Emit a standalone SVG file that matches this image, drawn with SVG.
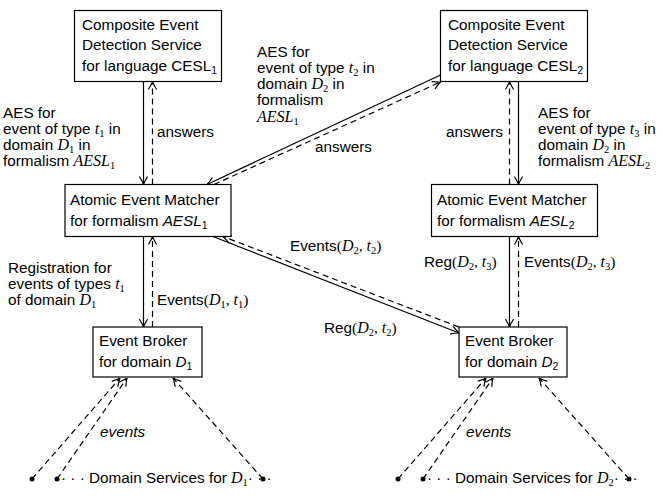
<svg xmlns="http://www.w3.org/2000/svg" width="663" height="499" viewBox="0 0 663 499">
<style>
text { font-family: "Liberation Sans", Arial, sans-serif; font-size: 15.3px; fill: #000; }
.m { font-family: "Liberation Serif", "Times New Roman", serif; font-style: italic; font-size: 16px; }
.mu { font-family: "Liberation Serif", "Times New Roman", serif; font-style: normal; font-size: 15.5px; }
.si { font-style: italic; }
.sub { font-size: 10.5px; }
.box { fill: #fff; stroke: #000; stroke-width: 1.2; }
.ln { stroke: #000; stroke-width: 1.2; fill: none; }
.dash { stroke-dasharray: 6 4; }
.ar { marker-end: url(#arr); }
</style>
<defs>
<marker id="arr" viewBox="0 0 10 10" refX="10" refY="5" markerWidth="10" markerHeight="10" markerUnits="userSpaceOnUse" orient="auto">
<path d="M2.5,1.2 Q7.5,4.2 10,5 Q7.5,5.8 2.5,8.8" fill="none" stroke="#000" stroke-width="1.2" stroke-dasharray="none" stroke-linecap="round"/>
</marker>
</defs>
<rect width="663" height="499" fill="#fff"/>

<g id="connectors">
<line class="ln ar" x1="143.5" y1="81.5" x2="143.5" y2="184.5"/>
<line class="ln dash ar" x1="152.5" y1="184.5" x2="152.5" y2="81.5"/>
<line class="ln ar" x1="143.5" y1="236.5" x2="143.5" y2="327"/>
<line class="ln dash ar" x1="152.5" y1="327" x2="152.5" y2="236.5"/>
<line class="ln dash ar" x1="509.5" y1="184.5" x2="509.5" y2="81.5"/>
<line class="ln ar" x1="518.5" y1="81.5" x2="518.5" y2="184.5"/>
<line class="ln ar" x1="509.5" y1="236.5" x2="509.5" y2="327"/>
<line class="ln dash ar" x1="518.5" y1="327" x2="518.5" y2="236.5"/>
<line class="ln ar" x1="440.5" y1="75" x2="207" y2="184.5"/>
<line class="ln dash ar" x1="214" y1="184.5" x2="440.5" y2="82"/>
<line class="ln ar" x1="213" y1="236.5" x2="459" y2="333"/>
<line class="ln dash ar" x1="459" y1="327" x2="223" y2="236.5"/>
<line class="ln dash ar" x1="32" y1="479" x2="120" y2="378"/>
<line class="ln dash ar" x1="57" y1="479" x2="127" y2="378"/>
<line class="ln dash ar" x1="263" y1="479" x2="173" y2="378"/>
<line class="ln dash ar" x1="398" y1="479" x2="486" y2="378"/>
<line class="ln dash ar" x1="423" y1="479" x2="493" y2="378"/>
<line class="ln dash ar" x1="629" y1="479" x2="539" y2="378"/>
</g>

<g id="ceds1">
<rect class="box" x="74.5" y="10.5" width="147" height="71"/>
<text x="82" y="30">Composite Event</text>
<text x="82" y="50">Detection Service</text>
<text x="82" y="71">for language CESL<tspan class="sub" dy="3">1</tspan></text>
</g>
<g id="ceds2">
<rect class="box" x="440.5" y="10.5" width="147" height="71"/>
<text x="448" y="30">Composite Event</text>
<text x="448" y="50">Detection Service</text>
<text x="448" y="71">for language CESL<tspan class="sub" dy="3">2</tspan></text>
</g>
<g id="aem1">
<rect class="box" x="65" y="184.5" width="166" height="52"/>
<text x="70" y="205">Atomic Event Matcher</text>
<text x="70" y="226">for formalism <tspan class="si">AESL</tspan><tspan class="sub" dy="3">1</tspan></text>
</g>
<g id="aem2">
<rect class="box" x="431.5" y="184.5" width="166" height="52"/>
<text x="437" y="205">Atomic Event Matcher</text>
<text x="437" y="226">for formalism <tspan class="si">AESL</tspan><tspan class="sub" dy="3">2</tspan></text>
</g>
<g id="eb1">
<rect class="box" x="93" y="327" width="109" height="50"/>
<text x="99" y="346">Event Broker</text>
<text x="99" y="367">for domain <tspan class="si">D</tspan><tspan class="sub" dy="3">1</tspan></text>
</g>
<g id="eb2">
<rect class="box" x="459" y="327" width="108" height="50"/>
<text x="465" y="346">Event Broker</text>
<text x="465" y="367">for domain <tspan class="si">D</tspan><tspan class="sub" dy="3">2</tspan></text>
</g>

<g id="ds1">
<circle cx="32" cy="479" r="2.5"/>
<circle cx="57" cy="479" r="2.5"/>
<circle cx="263" cy="479" r="2.5"/>
<text x="61" y="483">· · · Domain Services for <tspan class="m">D</tspan><tspan class="mu sub" dy="2.5">1</tspan><tspan dy="-2.5">· · ·</tspan></text>
</g>
<g id="ds2">
<circle cx="398" cy="479" r="2.5"/>
<circle cx="423" cy="479" r="2.5"/>
<circle cx="629" cy="479" r="2.5"/>
<text x="427" y="483">· · · Domain Services for <tspan class="m">D</tspan><tspan class="mu sub" dy="2.5">2</tspan><tspan dy="-2.5">· · ·</tspan></text>
</g>

<g id="labels">
<text x="3" y="118">AES for</text>
<text x="3" y="134">event of type <tspan class="m">t</tspan><tspan class="mu sub" dy="2.5">1</tspan><tspan dy="-2.5"> in</tspan></text>
<text x="3" y="150">domain <tspan class="m">D</tspan><tspan class="mu sub" dy="2.5">1</tspan><tspan dy="-2.5"> in</tspan></text>
<text x="3" y="166">formalism <tspan class="m">AESL</tspan><tspan class="mu sub" dy="2.5">1</tspan></text>
<text x="157" y="137">answers</text>

<text x="257" y="57">AES for</text>
<text x="257" y="73">event of type <tspan class="m">t</tspan><tspan class="mu sub" dy="2.5">2</tspan><tspan dy="-2.5"> in</tspan></text>
<text x="257" y="89">domain <tspan class="m">D</tspan><tspan class="mu sub" dy="2.5">2</tspan><tspan dy="-2.5"> in</tspan></text>
<text x="257" y="105">formalism</text>
<text x="257" y="122"><tspan class="m">AESL</tspan><tspan class="mu sub" dy="2.5">1</tspan></text>
<text x="315" y="152">answers</text>

<text x="538" y="118">AES for</text>
<text x="538" y="134">event of type <tspan class="m">t</tspan><tspan class="mu sub" dy="2.5">3</tspan><tspan dy="-2.5"> in</tspan></text>
<text x="538" y="150">domain <tspan class="m">D</tspan><tspan class="mu sub" dy="2.5">2</tspan><tspan dy="-2.5"> in</tspan></text>
<text x="538" y="166">formalism <tspan class="m">AESL</tspan><tspan class="mu sub" dy="2.5">2</tspan></text>
<text x="503" y="137" text-anchor="end">answers</text>

<text x="8" y="273">Registration for</text>
<text x="8" y="289">events of types <tspan class="m">t</tspan><tspan class="mu sub" dy="2.5">1</tspan></text>
<text x="8" y="305">of domain <tspan class="m">D</tspan><tspan class="mu sub" dy="2.5">1</tspan></text>
<text x="157" y="305">Events<tspan class="mu">(</tspan><tspan class="m">D</tspan><tspan class="mu sub" dy="2.5">1</tspan><tspan class="mu" dy="-2.5">, </tspan><tspan class="m">t</tspan><tspan class="mu sub" dy="2.5">1</tspan><tspan class="mu" dy="-2.5">)</tspan></text>

<text x="290" y="251">Events<tspan class="mu">(</tspan><tspan class="m">D</tspan><tspan class="mu sub" dy="2.5">2</tspan><tspan class="mu" dy="-2.5">, </tspan><tspan class="m">t</tspan><tspan class="mu sub" dy="2.5">2</tspan><tspan class="mu" dy="-2.5">)</tspan></text>
<text x="324" y="333">Reg<tspan class="mu">(</tspan><tspan class="m">D</tspan><tspan class="mu sub" dy="2.5">2</tspan><tspan class="mu" dy="-2.5">, </tspan><tspan class="m">t</tspan><tspan class="mu sub" dy="2.5">2</tspan><tspan class="mu" dy="-2.5">)</tspan></text>
<text x="424" y="267">Reg<tspan class="mu">(</tspan><tspan class="m">D</tspan><tspan class="mu sub" dy="2.5">2</tspan><tspan class="mu" dy="-2.5">, </tspan><tspan class="m">t</tspan><tspan class="mu sub" dy="2.5">3</tspan><tspan class="mu" dy="-2.5">)</tspan></text>
<text x="524" y="267">Events<tspan class="mu">(</tspan><tspan class="m">D</tspan><tspan class="mu sub" dy="2.5">2</tspan><tspan class="mu" dy="-2.5">, </tspan><tspan class="m">t</tspan><tspan class="mu sub" dy="2.5">3</tspan><tspan class="mu" dy="-2.5">)</tspan></text>

<text class="si" x="100" y="437">events</text>
<text class="si" x="466" y="437">events</text>
</g>
</svg>
